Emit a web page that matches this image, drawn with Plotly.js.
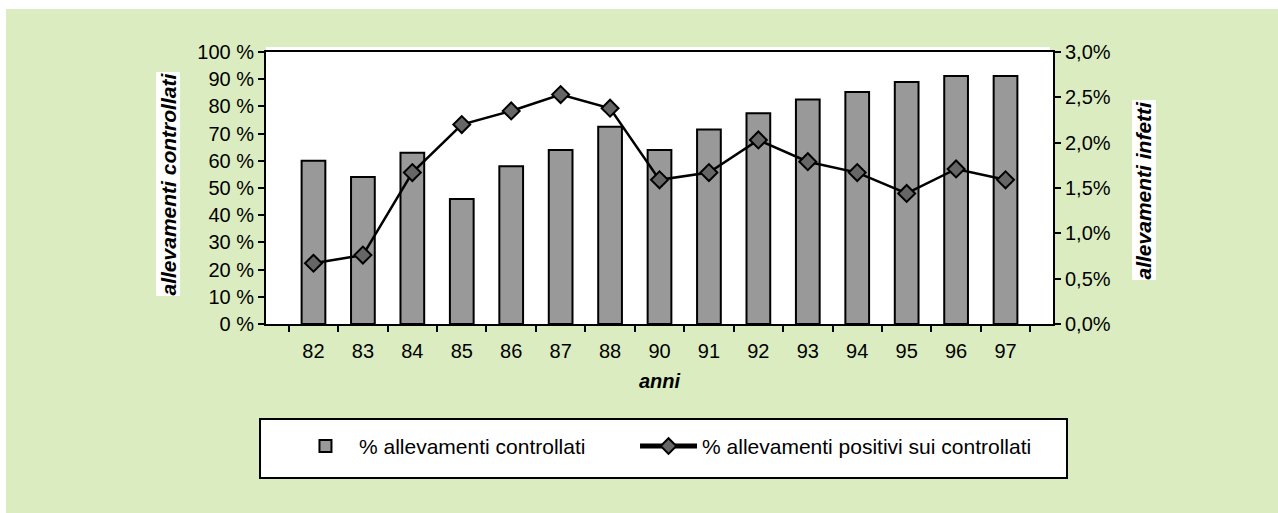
<!DOCTYPE html>
<html><head><meta charset="utf-8">
<script src="https://cdn.plot.ly/plotly-3.0.1.min.js"></script>
<style>html,body{margin:0;padding:0;background:#fff;}#chart{position:absolute;left:6px;top:9px;width:1272px;height:504px;}</style>
</head><body><div id="chart"></div>
<script>
const years = ['82','83','84','85','86','87','88','90','91','92','93','94','95','96','97'];
const controllati = [60, 54, 63, 46, 58, 64, 72.5, 64, 71.5, 77.5, 82.5, 85.3, 89, 91.2, 91.2];
const positivi = [0.67, 0.76, 1.67, 2.20, 2.35, 2.53, 2.38, 1.59, 1.67, 2.03, 1.79, 1.67, 1.44, 1.71, 1.59];
const leftTicks = [0,10,20,30,40,50,60,70,80,90,100];
const leftLabels = ['0 %','10 %','20 %','30 %','40 %','50 %','60 %','70 %','80 %','90 %','100 %'];
const rightTicks = [0,0.5,1,1.5,2,2.5,3];
const rightLabels = ['0,0%','0,5%','1,0%','1,5%','2,0%','2,5%','3,0%'];

const FONT = 'Liberation Sans, Arial, sans-serif';

const traces = [
  {
    type: 'bar', x: years, y: controllati, name: '% allevamenti controllati',
    marker: {color: '#999999', line: {color: '#000', width: 2}},
    width: 0.48, yaxis: 'y', legend: 'legend'
  },
  {
    type: 'scatter', mode: 'lines+markers', x: years, y: positivi,
    name: '% allevamenti positivi sui controllati', yaxis: 'y2', legend: 'legend2',
    line: {color: '#000', width: 2.5},
    marker: {symbol: 'diamond', size: 13, color: '#666666', line: {color: '#000', width: 2}}
  }
];

const legendBase = {
  orientation: 'h', xanchor: 'left', y: -0.45, yanchor: 'middle',
  bgcolor: 'rgba(0,0,0,0)', borderwidth: 0, font: {size: 21, family: FONT},
  itemwidth: 57
};

const layout = {
  width: 1272, height: 504,
  margin: {l: 260, r: 225, t: 43, b: 189},
  paper_bgcolor: '#DBEDC0', plot_bgcolor: '#ffffff',
  font: {family: FONT, size: 20, color: '#000'},
  showlegend: true,
  legend: Object.assign({}, legendBase, {x: 0.033}),
  legend2: Object.assign({}, legendBase, {x: 0.4689, itemsizing: 'constant'}),
  xaxis: {
    type: 'category', categoryorder: 'array', categoryarray: years,
    showline: true, linecolor: '#000', linewidth: 2, mirror: true,
    ticks: 'outside', ticklen: 6, tickwidth: 2, tickcolor: '#000', tickson: 'boundaries',
    ticklabelstandoff: 8, showgrid: false, zeroline: false,
    title: {text: '<b><i>anni</i></b>', font: {size: 20, family: FONT}, standoff: 13}
  },
  yaxis: {
    range: [0, 100], tickmode: 'array', tickvals: leftTicks, ticktext: leftLabels,
    showline: true, linecolor: '#000', linewidth: 2,
    ticks: 'outside', ticklen: 6, tickwidth: 2, tickcolor: '#000',
    showgrid: false, zeroline: false
  },
  yaxis2: {
    range: [0, 3], tickmode: 'array', tickvals: rightTicks, ticktext: rightLabels,
    overlaying: 'y', side: 'right', anchor: 'x',
    showline: true, linecolor: '#000', linewidth: 2,
    ticks: 'outside', ticklen: 6, tickwidth: 2, tickcolor: '#000',
    showgrid: false, zeroline: false
  },
  shapes: [
    {type: 'rect', xref: 'paper', yref: 'paper', x0: 0, x1: 0.996, y0: 1, y1: 1.018,
     fillcolor: '#fff', line: {width: 0}, layer: 'below'},
    {type: 'rect', xref: 'paper', yref: 'paper', x0: -0.0076, x1: 1.0178, y0: -0.3493, y1: -0.5662,
     fillcolor: '#fff', line: {color: '#000', width: 2}, layer: 'below'}
  ],
  annotations: [
    {xref: 'paper', yref: 'paper', x: -0.1245, y: 0.513, xanchor: 'center', yanchor: 'middle',
     text: '<b><i>allevamenti controllati</i></b>',
     textangle: -90, showarrow: false, bgcolor: '#fff', font: {size: 21, family: FONT}, borderpad: 0},
    {xref: 'paper', yref: 'paper', x: 1.1156, y: 0.4945, xanchor: 'center', yanchor: 'middle',
     text: '<b><i>allevamenti infetti</i></b>',
     textangle: -90, showarrow: false, bgcolor: '#fff', font: {size: 21, family: FONT}, borderpad: 0}
  ]
};

Plotly.newPlot('chart', traces, layout, {displayModeBar: false, staticPlot: true});
</script></body></html>
